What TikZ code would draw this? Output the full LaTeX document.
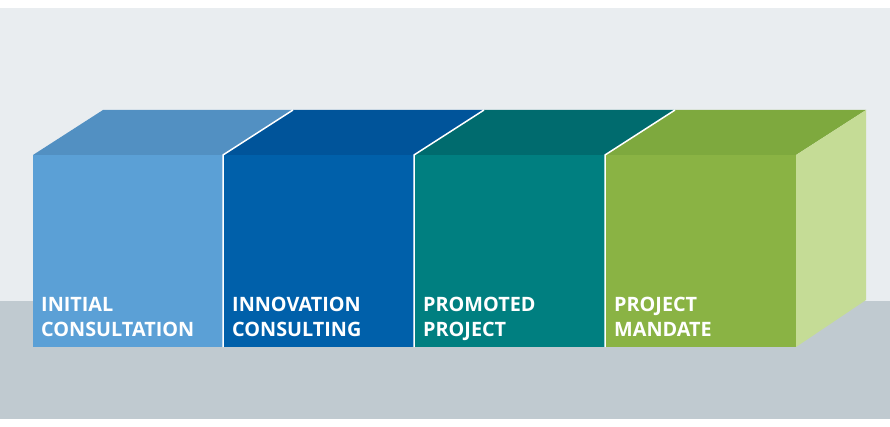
\documentclass[tikz,border=0pt]{standalone}
\usepackage{fontspec}
\setmainfont{Open Sans}
\definecolor{bglight}{HTML}{E9EDF0}
\definecolor{bgdark}{HTML}{C0CAD0}
\definecolor{initfront}{HTML}{5BA0D6}
\definecolor{inittop}{HTML}{5290C2}
\definecolor{innofront}{HTML}{0060AA}
\definecolor{innotop}{HTML}{00549A}
\definecolor{promfront}{HTML}{007F80}
\definecolor{promtop}{HTML}{006B6E}
\definecolor{mandfront}{HTML}{8AB344}
\definecolor{mandtop}{HTML}{7EA93E}
\definecolor{mandside}{HTML}{C5DC96}
\tikzset{
  label/.style={anchor=base west, align=left, text=white,
    font=\bfseries\fontsize{19.8}{25}\selectfont, inner sep=0pt},
  seam/.style={draw=white, line width=1.5pt}
}
\begin{document}
\begin{tikzpicture}[x=1pt,y=-1pt]
                \useasboundingbox (0, 0) rectangle (890, 427);
                \fill[bglight] (0, 8) rectangle (890, 301);
                \fill[bgdark] (0, 301) rectangle (890, 419);
                
                % front faces
                \fill[initfront] (33, 155) rectangle (223, 347);
                \fill[innofront] (223, 155) rectangle (414, 347);
                \fill[promfront] (414, 155) rectangle (605, 347);
                \fill[mandfront] (605, 155) rectangle (796, 347);
                
                % top faces
                \fill[inittop] (33, 155) -- (223, 155) -- (293, 110) -- (103, 110) -- cycle;
                \fill[innotop] (223, 155) -- (414, 155) -- (484, 110) -- (293, 110) -- cycle;
                \fill[promtop] (414, 155) -- (605, 155) -- (675, 110) -- (484, 110) -- cycle;
                \fill[mandtop] (605, 155) -- (796, 155) -- (866, 110) -- (675, 110) -- cycle;
                
                % side face
                \fill[mandside] (796, 155) -- (866, 110) -- (866, 300) -- (796, 347) -- cycle;
                
                % seams between the boxes
                \draw[seam] (223, 347) -- (223, 155) -- (293, 110);
                \draw[seam] (414, 347) -- (414, 155) -- (484, 110);
                \draw[seam] (605, 347) -- (605, 155) -- (675, 110);
                
                \node[label] (initial) at (41, 336) {INITIAL\\CONSULTATION};
                \node[label] (innovation) at (232, 336) {INNOVATION\\CONSULTING};
                \node[label] (promoted) at (423, 336) {PROMOTED\\PROJECT};
                \node[label] (mandate) at (614, 336) {PROJECT\\MANDATE};
\end{tikzpicture}
\end{document}
